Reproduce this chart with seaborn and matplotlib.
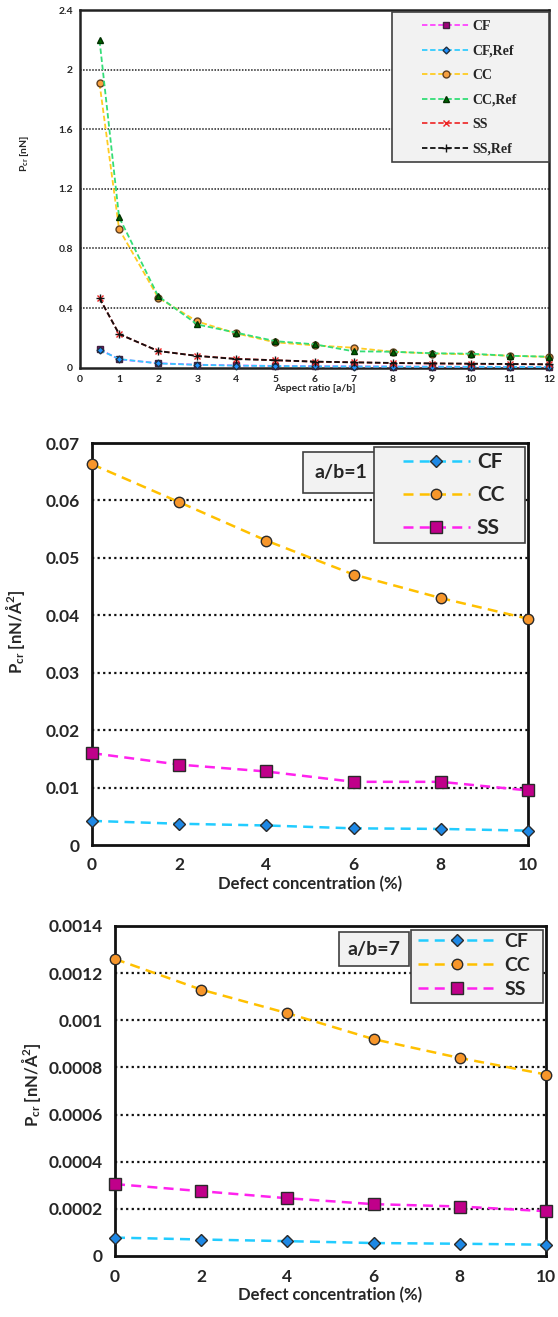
import matplotlib
matplotlib.use("Agg")
import matplotlib.pyplot as plt
import seaborn as sns
import pandas as pd
from matplotlib.lines import Line2D
from matplotlib.patches import Rectangle

# ---------------- data ----------------
aspect_ratio = [0.5, 1, 2, 3, 4, 5, 6, 7, 8, 9, 10, 11, 12]
top_cf = [0.124, 0.056, 0.030, 0.020, 0.015, 0.012, 0.010, 0.009, 0.008, 0.007, 0.006, 0.006, 0.005]
top_cf_ref = [0.120, 0.058, 0.029, 0.019, 0.014, 0.011, 0.009, 0.008, 0.007, 0.006, 0.006, 0.005, 0.005]
top_cc = [1.907, 0.93, 0.47, 0.31, 0.23, 0.17, 0.15, 0.134, 0.107, 0.095, 0.090, 0.080, 0.072]
top_cc_ref = [2.196, 1.01, 0.48, 0.29, 0.235, 0.178, 0.157, 0.11, 0.107, 0.097, 0.094, 0.080, 0.074]
top_ss = [0.466, 0.226, 0.112, 0.079, 0.060, 0.050, 0.040, 0.036, 0.031, 0.028, 0.026, 0.024, 0.022]
top_ss_ref = [0.466, 0.226, 0.112, 0.079, 0.058, 0.050, 0.041, 0.036, 0.032, 0.029, 0.027, 0.025, 0.023]

defect = [0, 2, 4, 6, 8, 10]
mid_cf = [0.0042, 0.0037, 0.0034, 0.0029, 0.0028, 0.0025]
mid_cc = [0.0663, 0.0597, 0.0530, 0.0471, 0.0430, 0.0394]
mid_ss = [0.0160, 0.0140, 0.0128, 0.0110, 0.0110, 0.0095]

bot_cf = [0.000078, 0.000070, 0.000063, 0.000055, 0.000052, 0.000048]
bot_cc = [0.00126, 0.00113, 0.00103, 0.00092, 0.00084, 0.00077]
bot_ss = [0.000305, 0.000275, 0.000245, 0.000220, 0.000210, 0.000190]

top_yticks = [0, 0.4, 0.8, 1.2, 1.6, 2.0, 2.4]
top_yticklabels = ["0", "0.4", "0.8", "1.2", "1.6", "2", "2.4"]
mid_yticks = [0, 0.01, 0.02, 0.03, 0.04, 0.05, 0.06, 0.07]
mid_yticklabels = ["0", "0.01", "0.02", "0.03", "0.04", "0.05", "0.06", "0.07"]
bot_yticks = [0, 0.0002, 0.0004, 0.0006, 0.0008, 0.001, 0.0012, 0.0014]
bot_yticklabels = ["0", "0.0002", "0.0004", "0.0006", "0.0008", "0.001", "0.0012", "0.0014"]

sns.set_style("white")
plt.rcParams["font.family"] = ["Lato", "DejaVu Sans"]
plt.rcParams["mathtext.default"] = "regular"

W, H = 558, 1317
fig = plt.figure(figsize=(W / 100, H / 100), dpi=100)


def px_to_ax(ax, px, py):
    """Convert figure pixel coords (from top-left) to axes fraction."""
    x0, y0, w, h = ax.get_position().bounds
    fx = px / W
    fy = 1 - py / H
    return (fx - x0) / w, (fy - y0) / h


def framed_legend(ax, handles, box, anchor_px, prop, hlen, spacing, tpad):
    (bx0, by0, bx1, by1) = box
    ax_x0, ax_y1 = px_to_ax(ax, bx0, by0)
    ax_x1, ax_y0 = px_to_ax(ax, bx1, by1)
    ax.add_patch(Rectangle((ax_x0, ax_y0), ax_x1 - ax_x0, ax_y1 - ax_y0,
                           transform=ax.transAxes, facecolor="#f2f2f2",
                           edgecolor="#404040", linewidth=1.2, zorder=6, clip_on=False))
    leg = ax.legend(handles=handles, loc="upper left",
                    bbox_to_anchor=px_to_ax(ax, *anchor_px), prop=prop,
                    handlelength=hlen, labelspacing=spacing, borderpad=0,
                    borderaxespad=0, frameon=False, handletextpad=tpad)
    leg.set_zorder(7)
    return leg


# ---------------- top chart ----------------
ax1 = fig.add_axes([80/W, 1-367.7/H, 469/W, 357.7/H])
top_series = [
    ("CF", top_cf, "#ff44ff", "s", "#a0007a", "#402040", 4.5),
    ("CF,Ref", top_cf_ref, "#33ccff", "D", "#1e90ff", "#203040", 3.5),
    ("CC", top_cc, "#ffcc22", "o", "#f7a040", "#604020", 5),
    ("CC,Ref", top_cc_ref, "#33dd77", "^", "#006400", "#003000", 5),
    ("SS", top_ss, "#ee3333", "x", "#ee2222", "#ee2222", 5),
    ("SS,Ref", top_ss_ref, "#111111", "+", "#111111", "#111111", 6),
]
handles = []
for name, vals, lc, mk, mf, me, ms in top_series:
    df = pd.DataFrame({"x": aspect_ratio, "y": vals})
    sns.lineplot(data=df, x="x", y="y", ax=ax1, color=lc, linestyle=(0, (3, 1.5)),
                 linewidth=1.3, marker=mk, markersize=ms, markerfacecolor=mf,
                 markeredgecolor=me, markeredgewidth=1.0, clip_on=False, zorder=3)
    handles.append(Line2D([], [], color=lc, linestyle=(0, (3, 1.5)), linewidth=1.3,
                          marker=mk, markersize=ms, markerfacecolor=mf,
                          markeredgecolor=me, markeredgewidth=1.0, label=name))
ax1.set_xlim(0, 12)
ax1.set_ylim(0, 2.4)
ax1.set_xticks(range(0, 13))
ax1.set_xticklabels([str(i) for i in range(0, 13)])
ax1.set_yticks(top_yticks)
ax1.set_yticklabels(top_yticklabels)
for yv in top_yticks[1:-1]:
    ax1.axhline(yv, color="#222222", linestyle=(0, (1, 1)), linewidth=1.1, zorder=1)
ax1.tick_params(axis="both", labelsize=7.5, direction="out", length=3, width=1, pad=2)
for lab in ax1.get_xticklabels() + ax1.get_yticklabels():
    lab.set_fontweight("bold")
for sp in ax1.spines.values():
    sp.set_color("#222222")
    sp.set_linewidth(1.8)
ax1.set_xlabel("Aspect ratio [a/b]", fontsize=7.5, fontweight="bold", labelpad=0)
ax1.set_ylabel(r"P$_{cr}$ [nN]", fontsize=7.5, fontweight="bold")
ax1.yaxis.set_label_coords(-0.105, 0.6)
framed_legend(ax1, handles, (392, 12, 549, 162), (422, 20),
              {"family": "Liberation Serif", "weight": "bold", "size": 10},
              3.4, 0.83, 0.25)
ax1.set_facecolor("white")


def draw_defect(ax, cf, cc, ss, yticks, yticklabels, ymax, tag, tag_xy, tag_pad):
    series = [
        ("CF", cf, "#22ccff", "D", "#1e88e5", 6),
        ("CC", cc, "#ffc000", "o", "#f7962a", 7.5),
        ("SS", ss, "#ff22ee", "s", "#c0008a", 8),
    ]
    hs = []
    for name, vals, lc, mk, mf, ms in series:
        df = pd.DataFrame({"x": defect, "y": vals})
        sns.lineplot(data=df, x="x", y="y", ax=ax, color=lc, linestyle=(0, (4, 2.5)),
                     linewidth=1.8, marker=mk, markersize=ms, markerfacecolor=mf,
                     markeredgecolor="#2a2a2a", markeredgewidth=1.0, clip_on=False, zorder=3)
        hs.append(Line2D([], [], color=lc, linestyle=(0, (4, 2.5)), linewidth=1.8,
                         marker=mk, markersize=ms, markerfacecolor=mf,
                         markeredgecolor="#2a2a2a", markeredgewidth=1.0, label=name))
    ax.set_xlim(0, 10)
    ax.set_ylim(0, ymax)
    ax.set_xticks(defect)
    ax.set_xticklabels([str(d) for d in defect])
    ax.set_yticks(yticks)
    ax.set_yticklabels(yticklabels)
    for yv in yticks[1:-1]:
        ax.axhline(yv, color="#111111", linestyle=(0, (1, 1.5)), linewidth=1.6, zorder=1)
    ax.tick_params(axis="both", labelsize=12.5, direction="out", length=5, width=1.8, pad=4)
    for lab in ax.get_xticklabels() + ax.get_yticklabels():
        lab.set_fontweight("bold")
    for sp in ax.spines.values():
        sp.set_color("#111111")
        sp.set_linewidth(2.0)
    ax.set_xlabel("Defect concentration (%)", fontsize=12, fontweight="bold", labelpad=2)
    ax.set_ylabel(r"P$_{cr}$ [nN/Å$^{2}$]", fontsize=12, fontweight="bold")
    ax.text(tag_xy[0], tag_xy[1], tag, transform=ax.transAxes, fontsize=14,
            fontweight="bold", ha="center", va="center", zorder=5,
            bbox=dict(boxstyle="square,pad=%s" % tag_pad, facecolor="#f2f2f2",
                      edgecolor="#404040", linewidth=1.2))
    ax.set_facecolor("white")
    return hs


# ---------------- middle chart ----------------
ax2 = fig.add_axes([92/W, 1-845/H, 436/W, 402/H])
hs2 = draw_defect(ax2, mid_cf, mid_cc, mid_ss, mid_yticks, mid_yticklabels, 0.07, "a/b=1",
                  px_to_ax(ax2, 341, 472.5), 0.62)
framed_legend(ax2, hs2, (374, 447, 525, 543), (403, 452),
              {"weight": "bold", "size": 15}, 3.2, 0.62, 0.35)
ax2.yaxis.set_label_coords(-0.149, 0.53)

# ---------------- bottom chart ----------------
ax3 = fig.add_axes([115/W, 1-1256/H, 431/W, 330/H])
hs3 = draw_defect(ax3, bot_cf, bot_cc, bot_ss, bot_yticks, bot_yticklabels, 0.0014, "a/b=7",
                  px_to_ax(ax3, 374, 949), 0.42)
framed_legend(ax3, hs3, (411, 930, 543, 1003), (418, 933),
              {"weight": "bold", "size": 14}, 4.0, 0.36, 0.45)
ax3.yaxis.set_label_coords(-0.167, 0.52)

fig.savefig("out.png", dpi=100, facecolor="white")
